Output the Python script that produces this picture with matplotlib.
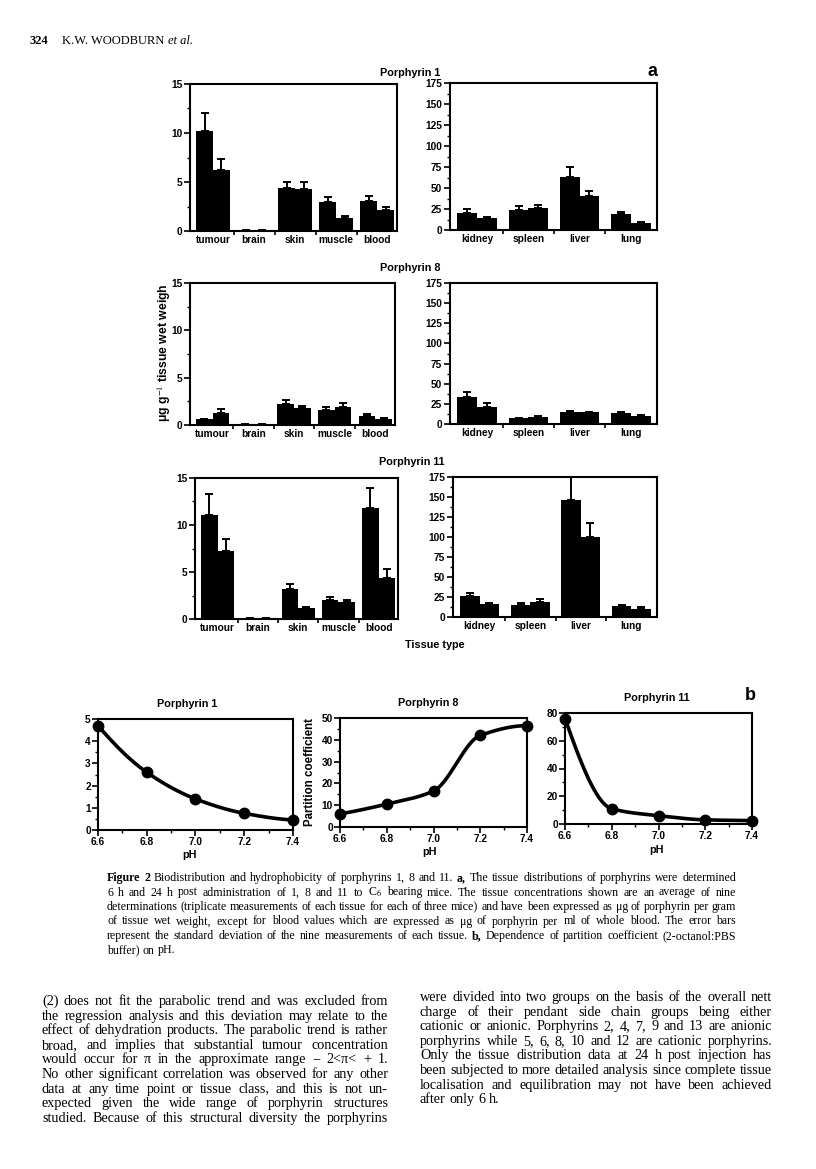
import numpy as np
import matplotlib
matplotlib.use('Agg')
import matplotlib.pyplot as plt
from matplotlib.ticker import MultipleLocator, FixedLocator
from matplotlib.font_manager import FontProperties

W, H = 816, 1169
plt.rcParams['mathtext.fontset'] = 'stix'
SANS = 'Liberation Sans'
SERIF = 'Liberation Serif'

# ---------------- data ----------------
left_tissues = ['tumour', 'brain', 'skin', 'muscle', 'blood']
right_tissues = ['kidney', 'spleen', 'liver', 'lung']

p1_left_6h = [10.2, 0.15, 4.4, 3.0, 3.1]
p1_left_6h_err = [1.8, 0.0, 0.65, 0.5, 0.5]
p1_left_24h = [6.2, 0.15, 4.3, 1.3, 2.15]
p1_left_24h_err = [1.1, 0.0, 0.65, 0.2, 0.3]
p1_right_6h = [20, 24, 63, 19]
p1_right_6h_err = [5, 4, 12, 3]
p1_right_24h = [14, 26, 41, 8]
p1_right_24h_err = [1, 4, 6, 1.5]

p8_left_6h = [0.6, 0.15, 2.2, 1.6, 1.0]
p8_left_6h_err = [0.05, 0.0, 0.4, 0.3, 0.15]
p8_left_24h = [1.3, 0.15, 1.75, 1.9, 0.65]
p8_left_24h_err = [0.35, 0.0, 0.3, 0.45, 0.05]
p8_right_6h = [34, 7, 15.5, 13.5]
p8_right_6h_err = [6, 0.5, 1, 0.8]
p8_right_24h = [21, 9, 14.5, 10.5]
p8_right_24h_err = [5, 1, 1, 0.8]

p11_left_6h = [11.1, 0.15, 3.2, 2.0, 11.8]
p11_left_6h_err = [2.2, 0.0, 0.55, 0.3, 2.1]
p11_left_24h = [7.2, 0.15, 1.15, 1.8, 4.4]
p11_left_24h_err = [1.3, 0.0, 0.1, 0.2, 0.9]
p11_right_6h = [26, 14.5, 146, 14]
p11_right_6h_err = [4, 3.5, 29, 1]
p11_right_24h = [16, 19, 100, 10.5]
p11_right_24h_err = [1.5, 3, 18, 1.5]

ph = [6.6, 6.8, 7.0, 7.2, 7.4]
ph_labels = ['6.6', '6.8', '7.0', '7.2', '7.4']
pc_p1 = [4.7, 2.6, 1.4, 0.75, 0.45]
pc_p8 = [6.0, 10.5, 16.5, 42.0, 46.5]
pc_p11 = [76.0, 11.0, 6.0, 3.0, 2.5]

header_num = '324'
header_auth = 'K.W. WOODBURN'
header_etal = 'et al.'

caption_lines = [
    "§Figure §2  Biodistribution and hydrophobicity of porphyrins 1, 8 and 11. §a, The tissue distributions of porphyrins were determined",
    "6 h and 24 h post administration of 1, 8 and 11 to C$_6$ bearing mice. The tissue concentrations shown are an average of nine",
    "determinations (triplicate measurements of each tissue for each of three mice) and have been expressed as μg of porphyrin per gram",
    "of tissue wet weight, except for blood values which are expressed as μg of porphyrin per ml of whole blood. The error bars",
    "represent the standard deviation of the nine measurements of each tissue. §b, Dependence of partition coefficient (2-octanol:PBS",
    "buffer) on pH.",
]
body_left = [
    "(2) does not fit the parabolic trend and was excluded from",
    "the regression analysis and this deviation may relate to the",
    "effect of dehydration products. The parabolic trend is rather",
    "broad, and implies that substantial tumour concentration",
    "would occur for π in the approximate range − 2<π< + 1.",
    "No other significant correlation was observed for any other",
    "data at any time point or tissue class, and this is not un-",
    "expected given the wide range of porphyrin structures",
    "studied. Because of this structural diversity the porphyrins",
]
body_right = [
    "were divided into two groups on the basis of the overall nett",
    "charge of their pendant side chain groups being either",
    "cationic or anionic. Porphyrins 2, 4, 7, 9 and 13 are anionic",
    "porphyrins while 5, 6, 8, 10 and 12 are cationic porphyrins.",
    "Only the tissue distribution data at 24 h post injection has",
    "been subjected to more detailed analysis since complete tissue",
    "localisation and equilibration may not have been achieved",
    "after only 6 h.",
]

# ---------------- figure ----------------
fig = plt.figure(figsize=(W / 100, H / 100), dpi=100)
renderer = fig.canvas.get_renderer()


def add_ax(x0, x1, yt, yb):
    return fig.add_axes([x0 / W, 1 - yb / H, (x1 - x0) / W, (yb - yt) / H])


def fx(x):
    return x / W


def fy(y):
    return 1 - y / H


TICKFONT = dict(family=SANS, weight='bold', size=7.3)


def bar_panel(ax, labels, v6, e6, v24, e24, ymax, major, minor, width, xlim):
    n = len(labels)
    x = np.arange(n)
    ax.bar(x - width / 2, v6, width=width, color='black', edgecolor='black', linewidth=0)
    ax.bar(x + width / 2, v24, width=width, color='black', edgecolor='black', linewidth=0)
    ax.errorbar(x - width / 2, v6, yerr=[np.zeros(n), e6], fmt='none', ecolor='black',
                elinewidth=1.4, capsize=3.2, capthick=1.4)
    ax.errorbar(x + width / 2, v24, yerr=[np.zeros(n), e24], fmt='none', ecolor='black',
                elinewidth=1.4, capsize=3.2, capthick=1.4)
    ax.set_xlim(*xlim)
    ax.set_ylim(0, ymax)
    ax.set_xticks(x)
    ax.set_xticklabels(labels, fontdict=TICKFONT)
    ax.xaxis.set_minor_locator(FixedLocator(list(np.arange(n - 1) + 0.5)))
    ax.tick_params(axis='x', which='major', length=0, pad=3)
    ax.tick_params(axis='x', which='minor', length=3, width=1.2, direction='out')
    ax.yaxis.set_major_locator(MultipleLocator(major))
    ax.yaxis.set_minor_locator(MultipleLocator(minor))
    ax.tick_params(axis='y', which='major', length=4, width=1.2, direction='out', pad=1.5)
    ax.tick_params(axis='y', which='minor', length=2.2, width=1.0, direction='out')
    for lab in ax.get_yticklabels():
        lab.set_fontproperties(FontProperties(**TICKFONT))
    for s in ax.spines.values():
        s.set_linewidth(1.5)


LX = (-0.56, 4.48)
RX = (-0.53, 3.51)
LW = 0.41
RW = 0.385

ax = add_ax(190, 397, 84, 231)
bar_panel(ax, left_tissues, p1_left_6h, p1_left_6h_err, p1_left_24h, p1_left_24h_err, 15, 5, 2.5, LW, LX)
ax = add_ax(450, 657, 83, 230)
bar_panel(ax, right_tissues, p1_right_6h, p1_right_6h_err, p1_right_24h, p1_right_24h_err, 175, 25, 12.5, RW, RX)

ax = add_ax(190, 395, 283, 425)
bar_panel(ax, left_tissues, p8_left_6h, p8_left_6h_err, p8_left_24h, p8_left_24h_err, 15, 5, 2.5, LW, LX)
ax = add_ax(450, 657, 283, 424)
bar_panel(ax, right_tissues, p8_right_6h, p8_right_6h_err, p8_right_24h, p8_right_24h_err, 175, 25, 12.5, RW, RX)

ax = add_ax(195, 398, 478, 619)
bar_panel(ax, left_tissues, p11_left_6h, p11_left_6h_err, p11_left_24h, p11_left_24h_err, 15, 5, 2.5, LW, LX)
ax = add_ax(453, 657, 477, 617)
bar_panel(ax, right_tissues, p11_right_6h, p11_right_6h_err, p11_right_24h, p11_right_24h_err, 175, 25, 12.5, RW, RX)

TITLEFONT = dict(family=SANS, weight='bold', size=7.8)
fig.text(fx(410), fy(73), 'Porphyrin 1', ha='center', va='center', **TITLEFONT)
fig.text(fx(410), fy(268), 'Porphyrin 8', ha='center', va='center', **TITLEFONT)
fig.text(fx(412), fy(462), 'Porphyrin 11', ha='center', va='center', **TITLEFONT)
fig.text(fx(652), fy(72), 'a', ha='center', va='center', family=SANS, weight='bold', size=13)
fig.text(fx(435), fy(645), 'Tissue type', ha='center', va='center', **TITLEFONT)
fig.text(fx(164), fy(353), 'μg g$^{-1}$ tissue wet weigh', ha='center', va='center',
         rotation=90, family=SANS, weight='bold', size=8.8)


# ---------------- partition coefficient panels ----------------
def pchip(x, y, xs):
    x = np.asarray(x, float)
    y = np.asarray(y, float)
    h = np.diff(x)
    d = np.diff(y) / h
    n = len(x)
    m = np.zeros(n)
    for k in range(1, n - 1):
        if d[k - 1] * d[k] <= 0:
            m[k] = 0.0
        else:
            w1 = 2 * h[k] + h[k - 1]
            w2 = h[k] + 2 * h[k - 1]
            m[k] = (w1 + w2) / (w1 / d[k - 1] + w2 / d[k])

    def end(h0, h1, d0, d1):
        s = ((2 * h0 + h1) * d0 - h0 * d1) / (h0 + h1)
        if np.sign(s) != np.sign(d0):
            s = 0.0
        elif np.sign(d0) != np.sign(d1) and abs(s) > abs(3 * d0):
            s = 3 * d0
        return s

    m[0] = end(h[0], h[1], d[0], d[1])
    m[-1] = end(h[-1], h[-2], d[-1], d[-2])
    out = np.empty_like(xs)
    for i, xv in enumerate(xs):
        k = min(max(np.searchsorted(x, xv, side='right') - 1, 0), n - 2)
        t = (xv - x[k]) / h[k]
        h00 = 2 * t ** 3 - 3 * t ** 2 + 1
        h10 = t ** 3 - 2 * t ** 2 + t
        h01 = -2 * t ** 3 + 3 * t ** 2
        h11 = t ** 3 - t ** 2
        out[i] = h00 * y[k] + h10 * h[k] * m[k] + h01 * y[k + 1] + h11 * h[k] * m[k + 1]
    return out


def ph_panel(ax, yvals, ymax, major, minor):
    xs = np.linspace(ph[0], ph[-1], 300)
    ax.plot(xs, pchip(ph, yvals, xs), color='black', lw=2.6, solid_capstyle='round', clip_on=False)
    ax.plot(ph, yvals, 'o', color='black', markersize=7.5, clip_on=False, zorder=5)
    ax.set_xlim(6.6, 7.4)
    ax.set_ylim(0, ymax)
    ax.xaxis.set_major_locator(FixedLocator(ph))
    ax.set_xticklabels(ph_labels)
    ax.xaxis.set_minor_locator(MultipleLocator(0.1))
    ax.yaxis.set_major_locator(MultipleLocator(major))
    ax.yaxis.set_minor_locator(MultipleLocator(minor))
    ax.tick_params(which='major', length=4, width=1.2, direction='out', pad=1.2)
    ax.tick_params(which='minor', length=2.2, width=1.0, direction='out')
    for lab in ax.get_xticklabels() + ax.get_yticklabels():
        lab.set_fontproperties(FontProperties(family=SANS, weight='bold', size=7.3))
    for s in ax.spines.values():
        s.set_linewidth(1.5)


ax = add_ax(98, 293, 719, 830)
ph_panel(ax, pc_p1, 5, 1, 0.5)
ax = add_ax(340, 527, 718, 827)
ph_panel(ax, pc_p8, 50, 10, 5)
ax = add_ax(565, 752, 713, 824)
ph_panel(ax, pc_p11, 80, 20, 10)

fig.text(fx(187), fy(704), 'Porphyrin 1', ha='center', va='center', **TITLEFONT)
fig.text(fx(428), fy(703), 'Porphyrin 8', ha='center', va='center', **TITLEFONT)
fig.text(fx(657), fy(698), 'Porphyrin 11', ha='center', va='center', **TITLEFONT)
fig.text(fx(750), fy(695), 'b', ha='center', va='center', family=SANS, weight='bold', size=13)
for xx, yy in [(190, 855), (430, 852), (657, 850)]:
    fig.text(fx(xx), fy(yy), 'pH', ha='center', va='center', **TITLEFONT)
fig.text(fx(310), fy(772), 'Partition coefficient', ha='center', va='center', rotation=90,
         family=SANS, weight='bold', size=8.3)


# ---------------- text ----------------
def measure_line(line, size):
    total = 0.0
    nwords = 0
    for w in line.split(' '):
        if w == '':
            continue
        bold = w.startswith('§')
        t = fig.text(0, 0, w.lstrip('§'), family=SERIF, size=size,
                     weight='bold' if bold else 'normal')
        total += t.get_window_extent(renderer).width
        t.remove()
        nwords += 1
    space = size * 100 / 72 * 0.25
    return total + space * (nwords - 1)


def block_size(lines, width, justify_last):
    ref = 10.0
    sizes = []
    for i, line in enumerate(lines):
        if i == len(lines) - 1 and not justify_last:
            continue
        sizes.append(ref * width / measure_line(line, ref))
    return min(sizes)


def text_line(line, x0, x1, y, size, justify=True):
    words = [w for w in line.split(' ') if w != '']
    objs = []
    widths = []
    for w in words:
        bold = w.startswith('§')
        t = fig.text(0, fy(y), w.lstrip('§'), ha='left', va='baseline', family=SERIF, size=size,
                     weight='bold' if bold else 'normal')
        objs.append(t)
        widths.append(t.get_window_extent(renderer).width)
    total = sum(widths)
    space = size * 100 / 72 * 0.25
    if justify and len(words) > 1:
        gap = (x1 - x0 - total) / (len(words) - 1)
    else:
        gap = space
    x = x0
    for t, wdt in zip(objs, widths):
        t.set_x(fx(x))
        x += wdt + gap


# header
fig.text(fx(30), fy(44), header_num, ha='left', va='baseline', family=SERIF, size=9, weight='bold')
fig.text(fx(62), fy(44), header_auth, ha='left', va='baseline', family=SERIF, size=9)
fig.text(fx(168), fy(44), header_etal, ha='left', va='baseline', family=SERIF, size=9, style='italic')

cap_size = min(block_size(caption_lines, 629, False), 9.2)
for i, line in enumerate(caption_lines):
    text_line(line, 107, 736, 881 + 14.5 * i, cap_size, justify=(i < len(caption_lines) - 1))

body_size = min(block_size(body_left, 346, True), block_size(body_right, 352, False), 10.5)
for i, line in enumerate(body_left):
    text_line(line, 42, 388, 1005 + 14.6 * i, body_size, justify=True)
for i, line in enumerate(body_right):
    text_line(line, 420, 772, 1001 + 14.6 * i, body_size, justify=(i < len(body_right) - 1))

fig.savefig('out.png', dpi=100)
